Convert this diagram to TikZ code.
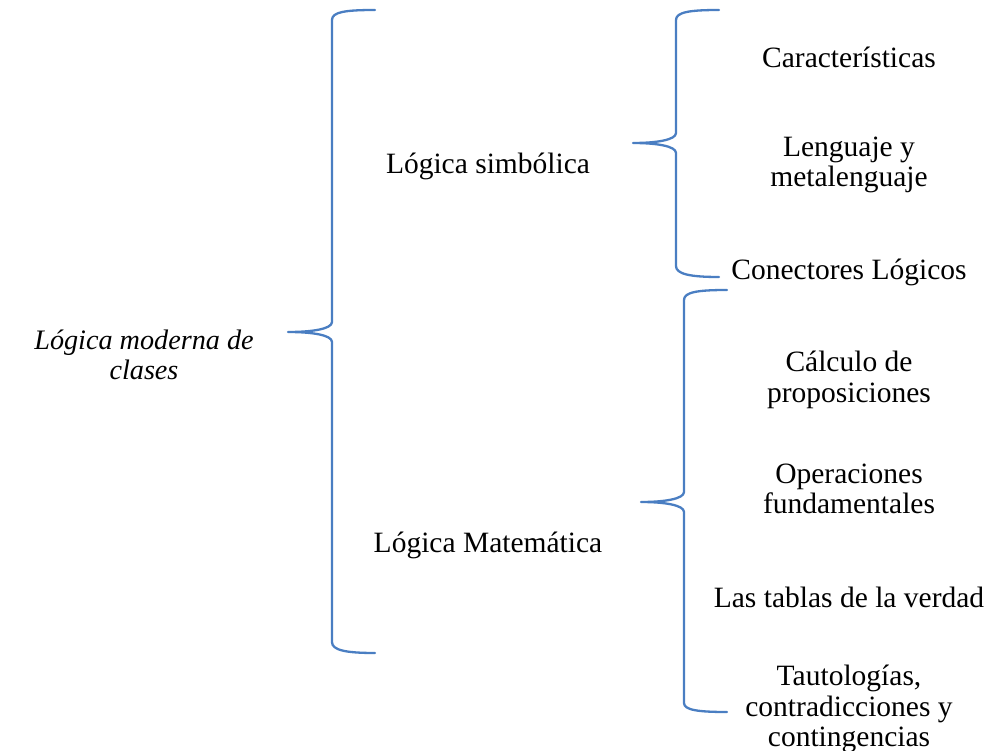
\documentclass[tikz,border=0pt]{standalone}
\usepackage{fontspec}
\setmainfont{Liberation Serif}
\begin{document}
\begin{tikzpicture}[x=1pt,y=-1pt,
  lbl/.style={align=center,font=\fontsize{29.5}{30.5}\selectfont,inner sep=0pt},
  brace/.style={draw=bracecol,line width=2.3pt,line cap=round,line join=round}]
\definecolor{bracecol}{HTML}{4A7EC2}
\useasboundingbox (0,0) rectangle (988,751);
% big brace
\draw[brace] (375,10) .. controls (345,10) and (332,12) .. (332,20) -- (332,322)
  .. controls (332,329) and (312,332) .. (288,332)
  .. controls (312,332) and (332,335) .. (332,342) -- (332,642)
  .. controls (332,650) and (345,653) .. (375,653);
% upper brace
\draw[brace] (719,10) .. controls (690,10) and (676,12) .. (676,20) -- (676,133)
  .. controls (676,140) and (656,143) .. (633,143)
  .. controls (656,143) and (676,146) .. (676,153) -- (676,266)
  .. controls (676,274) and (690,277) .. (719,277);
% lower brace
\draw[brace] (727,290) .. controls (698,290) and (684,292) .. (684,300) -- (684,492)
  .. controls (684,499) and (664,502) .. (641,502)
  .. controls (664,502) and (684,505) .. (684,512) -- (684,703)
  .. controls (684,710) and (698,712) .. (727,712);
% labels
\node[lbl,font=\fontsize{28.2}{30.5}\selectfont\itshape] (root) at (144,355) {Lógica moderna de\\clases};
\node[lbl] (simb) at (488,166) {Lógica simbólica};
\node[lbl] (mat) at (488,545) {Lógica Matemática};
\node[lbl] (car) at (849,57) {Características};
\node[lbl] (len) at (849,165) {Lenguaje y\\metalenguaje};
\node[lbl] (con) at (849,272) {Conectores Lógicos};
\node[lbl] (cal) at (849,380) {Cálculo de\\proposiciones};
\node[lbl] (ope) at (849,489) {Operaciones\\fundamentales};
\node[lbl] (tab) at (849,597) {Las tablas de la verdad};
\node[lbl] (tau) at (849,709) {Tautologías,\\contradicciones y\\contingencias};
\end{tikzpicture}
\end{document}
